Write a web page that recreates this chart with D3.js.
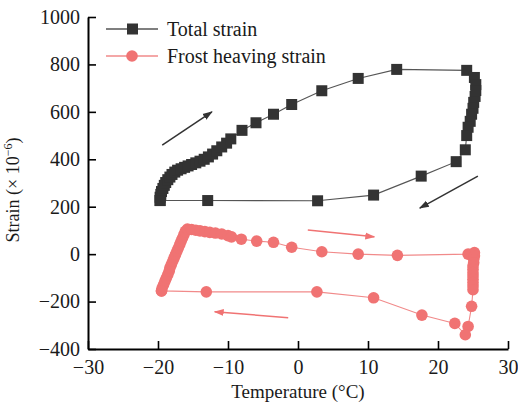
<!DOCTYPE html>
<html>
<head>
<meta charset="utf-8">
<script src="https://cdn.jsdelivr.net/npm/d3@7"></script>
<style>
    body { margin: 0; background: #fff; }
    text { font-family: "Liberation Serif", "Times New Roman", serif; }
</style>
</head>
<body>
<div id="chart"></div>
<script>

// ---- data ----
// total strain, in loop order (T in degC, strain in 1e-6)
const totalTemp = [-19.7,-19.7,-19.6,-19.5,-19.3,-19.1,-18.9,-18.6,-18.3,-18.0,-17.6,-17.2,-16.7,-16.2,-15.7,-15.2,-14.6,-14.0,-13.4,-12.8,-12.2,-11.6,-10.9,-10.2,-9.6,-8.0,-6.0,-3.5,-0.9,3.4,8.6,14.1,24.1,25.2,25.4,25.4,25.3,25.1,25.0,24.8,24.6,24.3,24.1,23.9,22.6,17.6,10.8,2.8,-12.9,-19.7];
const totalStrain = [226,240,252,264,277,290,302,314,325,336,346,354,360,366,372,378,385,392,400,410,422,436,452,468,486,522,554,590,631,689,741,779,775,745,715,690,665,640,615,590,560,535,500,440,390,329,249,225,226,226];

// frost heaving strain, in loop order
const frostTemp = [-19.5,-19.4,-19.2,-19.0,-18.8,-18.6,-18.4,-18.3,-18.1,-17.9,-17.7,-17.5,-17.3,-17.1,-16.9,-16.7,-16.5,-16.3,-16.1,-15.8,-15.2,-14.6,-14.0,-13.3,-12.6,-11.8,-10.9,-10.0,-9.5,-8.1,-5.9,-3.5,-0.9,3.4,8.6,14.2,24.3,25.2,25.2,25.1,25.1,25.0,25.0,25.0,25.0,25.0,25.0,25.0,25.0,24.8,24.3,23.9,22.4,17.7,10.8,2.7,-13.1,-19.5];
const frostStrain = [-155,-142,-128,-114,-100,-86,-72,-58,-44,-30,-16,-2,12,26,40,54,68,82,96,106,104,101,98,95,92,89,85,78,73,63,55,50,29,10,0,-5,0,7,-8,-22,-36,-50,-64,-78,-92,-106,-120,-134,-150,-220,-305,-340,-292,-257,-184,-159,-159,-155];

const seriesNames = ["Total strain", "Frost heaving strain"];
const xTicks = [-30, -20, -10, 0, 10, 20, 30];
const yTicks = [-400, -200, 0, 200, 400, 600, 800, 1000];

// direction arrows [x1, y1, x2, y2] in data units
const blackArrows = [[-19.4, 460, -12.3, 600], [25.7, 329, 17.4, 194]];
const redArrows = [[1.4, 102, 10.9, 73], [-1.4, -268, -11.9, -243]];


class StrainChart {

    constructor(parentElement) {
        this.parentElement = parentElement;
        this.initVis();
    }

    initVis() {
        let vis = this;

        vis.margin = {top: 17, right: 10, bottom: 57, left: 88};
        vis.width = 518 - vis.margin.left - vis.margin.right;
        vis.height = 406 - vis.margin.top - vis.margin.bottom;

        vis.svg = d3.select("#" + vis.parentElement).append("svg")
            .attr("width", 518)
            .attr("height", 406)
            .append("g")
            .attr("transform", "translate(" + vis.margin.left + "," + vis.margin.top + ")");

        vis.x = d3.scaleLinear().domain([-30, 30]).range([0, vis.width]);
        vis.y = d3.scaleLinear().domain([-400, 1000]).range([vis.height, 0]);

        vis.colors = {total: "#333333", totalLine: "#555555", frost: "#f07373", frostLine: "#f18a8a"};

        // arrow heads
        let defs = vis.svg.append("defs");
        [["headBlack", vis.colors.total], ["headRed", vis.colors.frost]].forEach(function(m) {
            defs.append("marker")
                .attr("id", m[0])
                .attr("viewBox", "0 0 10 10")
                .attr("refX", 9).attr("refY", 5)
                .attr("markerWidth", 10).attr("markerHeight", 10)
                .attr("markerUnits", "userSpaceOnUse")
                .attr("orient", "auto")
                .append("path")
                .attr("d", "M0,1.5 L10,5 L0,8.5 Z")
                .attr("fill", m[1]);
        });

        vis.drawAxes();
        vis.updateVis();
    }

    drawAxes() {
        let vis = this;

        // minus sign, no thousands separator
        let fmt = function(d) { return d < 0 ? "\u2212" + Math.abs(d) : String(d); };

        let xAxis = d3.axisBottom(vis.x).tickValues(xTicks).tickFormat(fmt).tickSizeInner(-8).tickSizeOuter(0).tickPadding(6);
        let yAxis = d3.axisLeft(vis.y).tickValues(yTicks).tickFormat(fmt).tickSizeInner(-8).tickSizeOuter(0).tickPadding(8);

        let gx = vis.svg.append("g")
            .attr("transform", "translate(0," + vis.height + ")")
            .call(xAxis);
        let gy = vis.svg.append("g").call(yAxis);

        [gx, gy].forEach(function(g) {
            g.attr("font-family", null);
            g.select(".domain").attr("stroke", "#000").attr("stroke-width", 2);
            g.selectAll(".tick line").attr("stroke", "#000").attr("stroke-width", 1.6);
            g.selectAll(".tick text")
                .attr("fill", "#1a1a1a")
                .style("font-size", "20px")
                .style("font-family", "Liberation Serif");
        });
        gx.selectAll(".tick text").attr("dy", "0.95em");

        vis.svg.append("text")
            .attr("x", vis.width / 2)
            .attr("y", vis.height + 49)
            .attr("text-anchor", "middle")
            .attr("fill", "#1a1a1a")
            .style("font-size", "19px")
            .text("Temperature (°C)");

        let yl = vis.svg.append("text")
            .attr("transform", "translate(" + (-69) + "," + (vis.height / 2 + 7) + ") rotate(-90)")
            .attr("text-anchor", "middle")
            .attr("fill", "#1a1a1a")
            .style("font-size", "18px");
        yl.append("tspan").text("Strain (× 10");
        yl.append("tspan").attr("dy", -7).style("font-size", "12px").text("−6");
        yl.append("tspan").attr("dy", 7).text(")");
    }

    updateVis() {
        let vis = this;

        let total = totalTemp.map(function(t, i) { return {t: t, s: totalStrain[i]}; });
        let frost = frostTemp.map(function(t, i) { return {t: t, s: frostStrain[i]}; });

        let line = d3.line()
            .x(function(d) { return vis.x(d.t); })
            .y(function(d) { return vis.y(d.s); });

        // arrows
        vis.svg.selectAll(".arrow-black")
            .data(blackArrows)
            .enter().append("line")
            .attr("class", "arrow-black")
            .attr("x1", d => vis.x(d[0])).attr("y1", d => vis.y(d[1]))
            .attr("x2", d => vis.x(d[2])).attr("y2", d => vis.y(d[3]))
            .attr("stroke", vis.colors.total)
            .attr("stroke-width", 1.5)
            .attr("marker-end", "url(#headBlack)");

        vis.svg.selectAll(".arrow-red")
            .data(redArrows)
            .enter().append("line")
            .attr("class", "arrow-red")
            .attr("x1", d => vis.x(d[0])).attr("y1", d => vis.y(d[1]))
            .attr("x2", d => vis.x(d[2])).attr("y2", d => vis.y(d[3]))
            .attr("stroke", vis.colors.frost)
            .attr("stroke-width", 1.5)
            .attr("marker-end", "url(#headRed)");

        // total strain
        vis.svg.append("path")
            .datum(total)
            .attr("d", line)
            .attr("fill", "none")
            .attr("stroke", vis.colors.totalLine)
            .attr("stroke-width", 1.1);

        vis.svg.selectAll(".sq")
            .data(total)
            .enter().append("rect")
            .attr("class", "sq")
            .attr("x", d => vis.x(d.t) - 5.5)
            .attr("y", d => vis.y(d.s) - 5.5)
            .attr("width", 11)
            .attr("height", 11)
            .attr("fill", vis.colors.total);

        // frost heaving strain
        vis.svg.append("path")
            .datum(frost)
            .attr("d", line)
            .attr("fill", "none")
            .attr("stroke", vis.colors.frostLine)
            .attr("stroke-width", 1.1);

        vis.svg.selectAll(".dot")
            .data(frost)
            .enter().append("circle")
            .attr("class", "dot")
            .attr("cx", d => vis.x(d.t))
            .attr("cy", d => vis.y(d.s))
            .attr("r", 5.8)
            .attr("fill", vis.colors.frost);

        // legend
        let legend = vis.svg.append("g").attr("transform", "translate(18,12)");
        seriesNames.forEach(function(name, i) {
            let g = legend.append("g").attr("transform", "translate(0," + (i * 27) + ")");
            g.append("line")
                .attr("x1", 0).attr("x2", 52)
                .attr("stroke", i === 0 ? vis.colors.totalLine : vis.colors.frostLine)
                .attr("stroke-width", 1.6);
            if (i === 0) {
                g.append("rect").attr("x", 21).attr("y", -5.5).attr("width", 11).attr("height", 11)
                    .attr("fill", vis.colors.total);
            } else {
                g.append("circle").attr("cx", 26).attr("r", 5.8).attr("fill", vis.colors.frost);
            }
            g.append("text")
                .attr("x", 61)
                .attr("y", 7)
                .attr("fill", "#1a1a1a")
                .style("font-size", "20px")
                .text(name);
        });
    }
}

new StrainChart("chart");
</script>
</body>
</html>
